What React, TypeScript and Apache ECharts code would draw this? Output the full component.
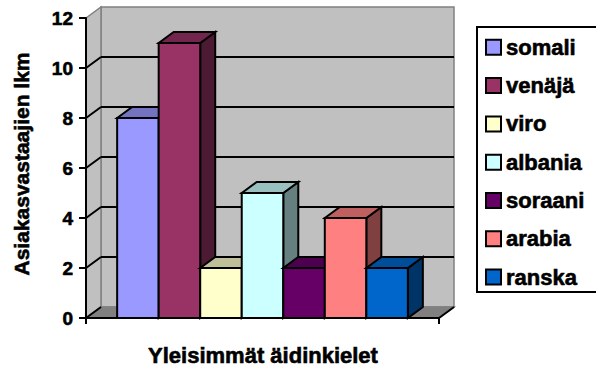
import React, { useEffect, useRef } from "react";
import * as echarts from "echarts";

// Most common mother tongues among respondents
const categories = ["somali", "venäjä", "viro", "albania", "soraani", "arabia", "ranska"];
const values = [8, 11, 2, 5, 2, 4, 2];
const colors = ["#9999FF", "#993366", "#FFFFCC", "#CCFFFF", "#660066", "#FF8080", "#0066CC"];
const yTicks = [0, 2, 4, 6, 8, 10, 12];

const FONT = "Liberation Sans, Arial, sans-serif";
// slight outline to give the heavy bold look
const HEAVY = { textBorderColor: "#000", textBorderWidth: 0.6 };
// 3D depth offset of walls and bars (px)
const DX = 15;
const DY = -11;
// horizontal layout in x-axis units: empty space before the first bar
const X_OFFSET = 0.75;
const X_MAX = 8.5;

function shade(hex: string, k: number): string {
  const n = parseInt(hex.slice(1), 16);
  const r = Math.round(((n >> 16) & 255) * k);
  const g = Math.round(((n >> 8) & 255) * k);
  const b = Math.round((n & 255) * k);
  return `rgb(${r},${g},${b})`;
}

const frameRenderItem = (_params: any, api: any) => {
  const [x0, y0] = api.coord([0, 0]);
  const [x1] = api.coord([X_MAX, 0]);
  const yTop = api.coord([0, yTicks[yTicks.length - 1]])[1];
  const wallStroke = "#808080";
  const children: any[] = [
    {
      type: "polygon",
      shape: { points: [[x0 + DX, yTop + DY], [x1 + DX, yTop + DY], [x1 + DX, y0 + DY], [x0 + DX, y0 + DY]] },
      style: { fill: "#C0C0C0", stroke: wallStroke, lineWidth: 1.5 },
    },
    {
      type: "polygon",
      shape: { points: [[x0, yTop], [x0 + DX, yTop + DY], [x0 + DX, y0 + DY], [x0, y0]] },
      style: { fill: "#C0C0C0", stroke: wallStroke, lineWidth: 1.5 },
    },
    {
      type: "polygon",
      shape: { points: [[x0, y0], [x0 + DX, y0 + DY], [x1 + DX, y0 + DY], [x1, y0]] },
      style: { fill: "#808080", stroke: wallStroke, lineWidth: 1.5 },
    },
  ];
  yTicks.forEach((t, idx) => {
    if (idx === yTicks.length - 1) return;
    const y = api.coord([0, t])[1];
    children.push({
      type: "line",
      shape: { x1: x0, y1: y, x2: x0 + DX, y2: y + DY },
      style: { stroke: "#000", lineWidth: 2 },
    });
    if (t > 0) {
      children.push({
        type: "line",
        shape: { x1: x0 + DX, y1: y + DY, x2: x1 + DX, y2: y + DY },
        style: { stroke: "#000", lineWidth: 2 },
      });
    }
  });
  children.push({
    type: "line",
    shape: { x1: x1, y1: y0, x2: x1 + DX, y2: y0 + DY },
    style: { stroke: "#000", lineWidth: 2 },
  });
  return { type: "group", children };
};

const barRenderItem = (params: any, api: any) => {
  const i = api.value(0);
  const v = api.value(1);
  const base = api.coord([i + X_OFFSET, 0]);
  const top = api.coord([i + 1 + X_OFFSET, v]);
  const L = base[0];
  const B = base[1];
  const R = top[0];
  const T = top[1];
  const c = colors[params.seriesIndex - 1];
  const edge = { stroke: "#000", lineWidth: 2, lineJoin: "miter" };
  return {
    type: "group",
    children: [
      {
        type: "polygon",
        shape: { points: [[R, T], [R + DX, T + DY], [R + DX, B + DY], [R, B]] },
        style: { fill: shade(c, 0.5), ...edge },
      },
      {
        type: "polygon",
        shape: { points: [[L, T], [L + DX, T + DY], [R + DX, T + DY], [R, T]] },
        style: { fill: shade(c, 0.75), ...edge },
      },
      {
        type: "rect",
        shape: { x: L, y: T, width: R - L, height: B - T },
        style: { fill: c, ...edge },
      },
    ],
  };
};

export default function App() {
  const ref = useRef<HTMLDivElement>(null);

  useEffect(() => {
    if (!ref.current) return;
    const chart = echarts.init(ref.current, undefined, { renderer: "svg" });

    const barSeries = categories.map((name, i) => ({
      type: "custom",
      name,
      data: [[i, values[i]]],
      itemStyle: { color: colors[i], borderColor: "#000", borderWidth: 2 },
      renderItem: barRenderItem,
      z: 3,
    }));

    chart.setOption({
      animation: false,
      backgroundColor: "#fff",
      grid: { left: 86, top: 18, width: 353, height: 300, containLabel: false, outerBoundsMode: "none" },
      xAxis: {
        type: "value",
        min: 0,
        max: X_MAX,
        interval: X_MAX,
        axisLine: { show: true, lineStyle: { color: "#000", width: 2 } },
        axisTick: { show: true, length: 6, lineStyle: { color: "#000", width: 2 } },
        axisLabel: { show: false },
        splitLine: { show: false },
        z: 5,
      },
      yAxis: {
        type: "value",
        min: 0,
        max: 12,
        interval: 2,
        axisLine: { show: true, lineStyle: { color: "#000", width: 2 } },
        axisTick: { show: true, length: 7, lineStyle: { color: "#000", width: 2 } },
        axisLabel: { margin: 13, color: "#000", fontFamily: FONT, fontWeight: "bold", fontSize: 19, ...HEAVY },
        splitLine: { show: false },
        z: 5,
      },
      legend: {
        orient: "vertical",
        left: 485,
        top: 36,
        padding: 0,
        itemWidth: 15,
        itemHeight: 15,
        itemGap: 15.7,
        icon: "rect",
        selectedMode: false,
        data: categories,
        itemStyle: { borderColor: "#000", borderWidth: 2 },
        textStyle: { color: "#000", fontFamily: FONT, fontWeight: "bold", fontSize: 22, lineHeight: 22, ...HEAVY },
      },
      graphic: [
        {
          type: "rect",
          shape: { x: 477, y: 27, width: 140, height: 265 },
          style: { fill: "none", stroke: "#000", lineWidth: 2 },
          z: 0,
        },
        {
          type: "text",
          x: 21,
          y: 164,
          rotation: Math.PI / 2,
          style: {
            text: "Asiakasvastaajien lkm",
            font: `bold 21px ${FONT}`,
            fill: "#000",
            stroke: "#000",
            lineWidth: 0.6,
            align: "center",
            verticalAlign: "middle",
          },
        },
        {
          type: "text",
          x: 263,
          y: 355,
          style: {
            text: "Yleisimmät äidinkielet",
            font: `bold 22px ${FONT}`,
            fill: "#000",
            stroke: "#000",
            lineWidth: 0.6,
            align: "center",
            verticalAlign: "middle",
          },
        },
      ],
      series: [
        {
          type: "custom",
          name: "frame",
          data: [[0, 0]],
          renderItem: frameRenderItem,
          silent: true,
          z: 1,
        },
        ...barSeries,
      ],
    });

    return () => chart.dispose();
  }, []);

  return (
    <div
      ref={ref}
      style={{ position: "fixed", left: 0, top: 0, width: 596, height: 368 }}
    />
  );
}
